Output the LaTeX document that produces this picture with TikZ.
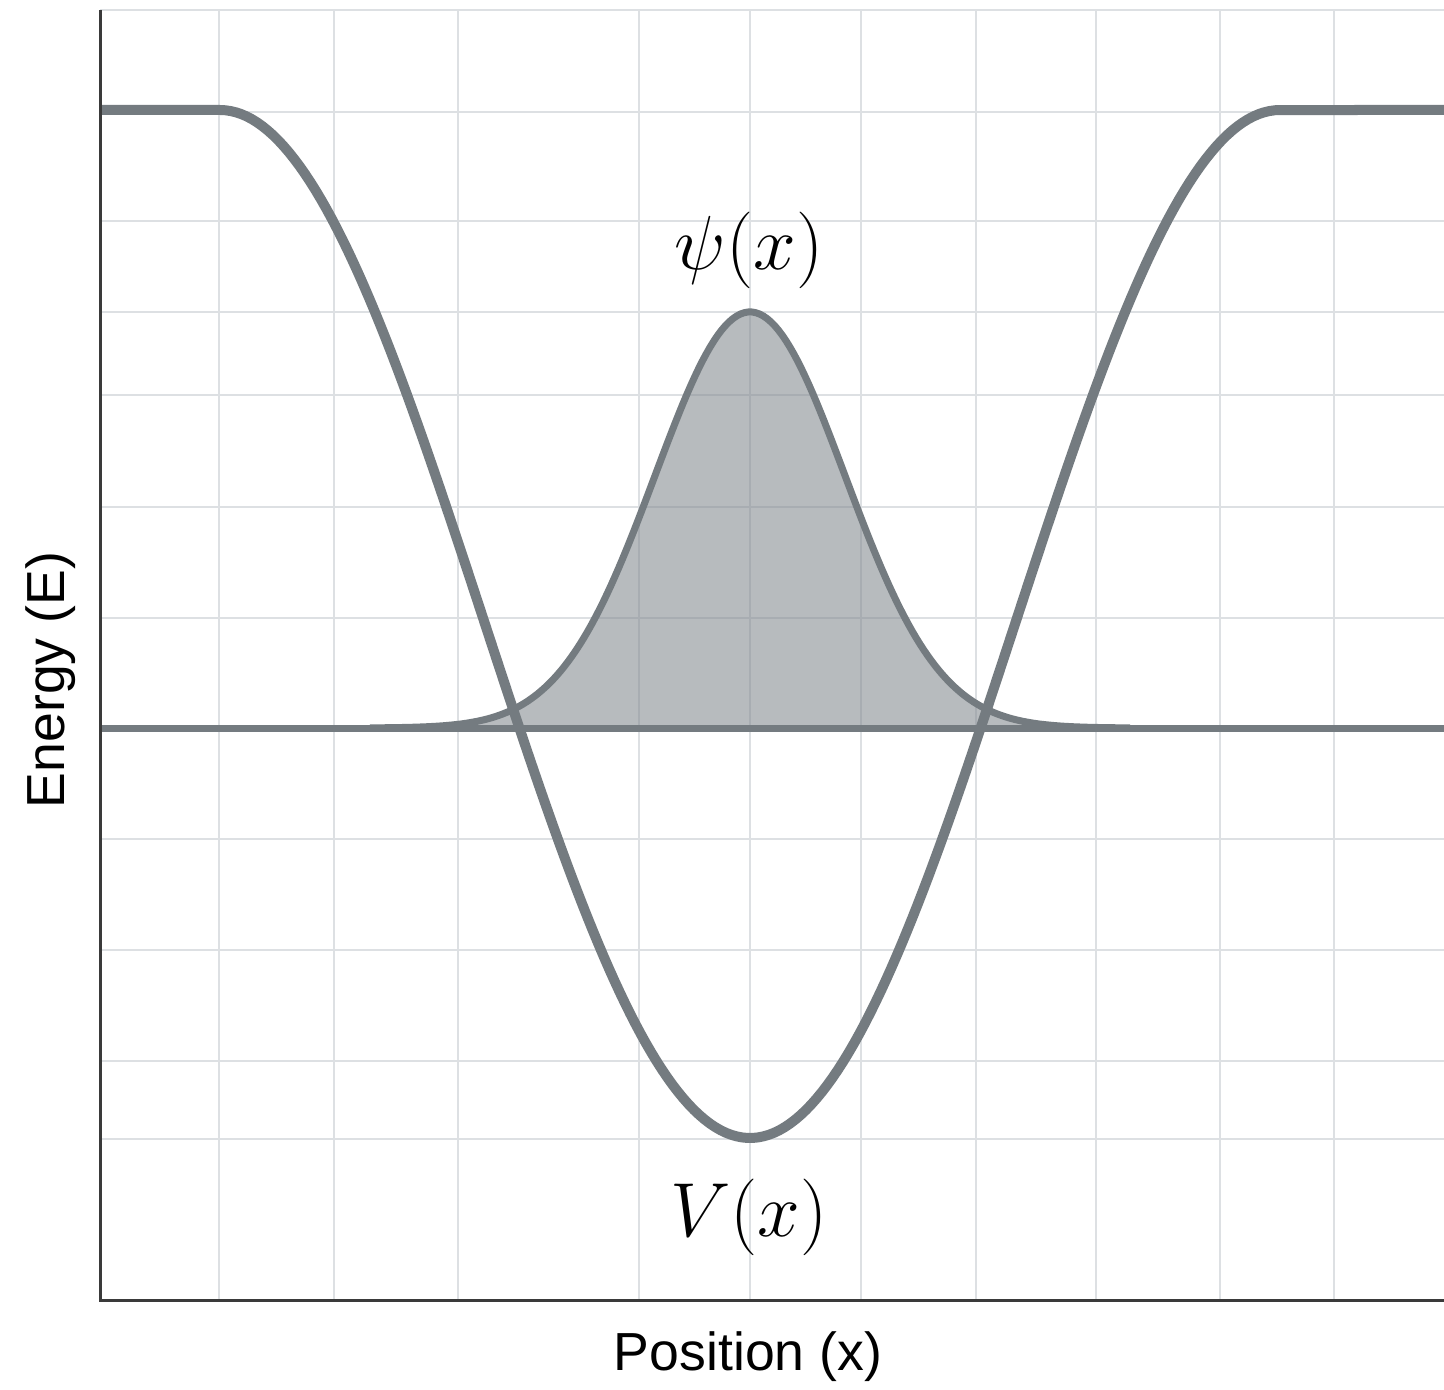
\documentclass[tikz,border=0pt]{standalone}
\usepackage{fontspec}
\newfontfamily\labelfont{Liberation Sans}
\definecolor{curvegray}{HTML}{747B80}
\definecolor{fillgray}{HTML}{7D848A}
\definecolor{gridgray}{HTML}{DDE0E3}
\definecolor{axisgray}{HTML}{3A3A3A}
\begin{document}
\begin{tikzpicture}[x=0.5pt,y=-0.5pt,
  gridline/.style={draw=gridgray, line width=0.75pt},
  axisline/.style={draw=axisgray, line width=1.5pt},
  vcurve/.style={draw=curvegray, line width=5pt, line join=round},
  psicurve/.style={draw=curvegray, line width=3.5pt, line join=round},
  psifill/.style={fill=fillgray, fill opacity=0.55},
  axislabel/.style={font=\labelfont\fontsize{26.8}{30}\selectfont, text=black, inner sep=0pt},
  mathlabel/.style={font=\Huge, scale=1.54, text=black, inner sep=0pt}]
\useasboundingbox[fill=white] (0,0) rectangle (1444,1390);
% grid
\foreach \gx in {219,334,458,639,750,861,976,1096,1220,1334}
  \draw[gridline] (\gx,10) -- (\gx,1300);
\foreach \gy in {10,112,221,312,395,507,618,728,839,950,1061,1139}
  \draw[gridline] (100,\gy) -- (1444,\gy);
% psi fill
\fill[psifill] plot[domain=370:1130, samples=200] (\x,{728-416*exp(-0.5*((\x-750)/95)^2)}) -- cycle;
% baseline
\coordinate (bl) at (100,728);
\coordinate (br) at (1444,728);
\draw[psicurve] (bl) -- (br);
% psi curve
\draw[psicurve] plot[domain=370:1130, samples=200] (\x,{728-416*exp(-0.5*((\x-750)/95)^2)});
% potential
\coordinate (vl) at (100,110);
\coordinate (vr) at (1444,110);
\draw[vcurve] (vl) -- plot[domain=220:1280, samples=200] (\x,{110+514*(1+cos(((\x-750)/530)*180))}) -- (vr);
% axes
\coordinate (ytop) at (100,10);
\coordinate (O) at (100,1300);
\coordinate (xend) at (1444,1300);
\draw[axisline] (ytop) -- (O) -- (xend);
% labels
\node[mathlabel] (psi) at (749,250) {$\psi(x)$};
\node[mathlabel] (V) at (749,1217) {$V(x)$};
\node[axislabel] (xlab) at (748,1357) {Position (x)};
\node[axislabel, rotate=90] (ylab) at (51,680) {Energy (E)};
\end{tikzpicture}
\end{document}
